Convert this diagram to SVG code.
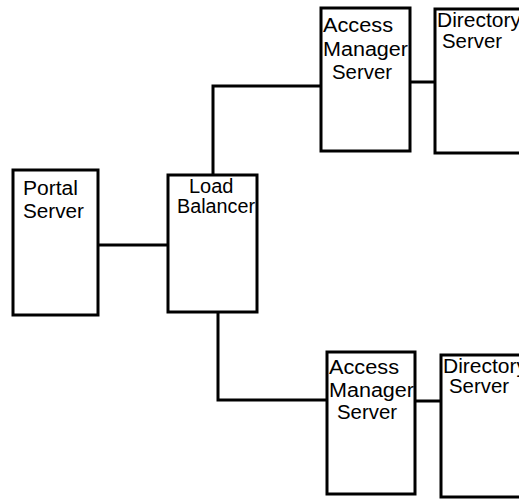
<svg xmlns="http://www.w3.org/2000/svg" width="519" height="499" viewBox="0 0 519 499">
<style>
.box{fill:#fff;stroke:#000;stroke-width:3}
.ln{fill:none;stroke:#000;stroke-width:3}
text{font-family:"Liberation Sans",Arial,sans-serif;font-size:20px;fill:#000}
</style>
<rect width="519" height="499" fill="#fff"/>
<g id="connectors">
<path class="ln" d="M98,245H168"/>
<path class="ln" d="M213,175V86H321"/>
<path class="ln" d="M410,82H435"/>
<path class="ln" d="M218,312V400H327"/>
<path class="ln" d="M415,401H441"/>
</g>
<g id="portal">
<rect class="box" x="13" y="170" width="85" height="145"/>
<text x="23" y="195" textLength="55" lengthAdjust="spacingAndGlyphs">Portal</text>
<text x="23" y="218" textLength="61" lengthAdjust="spacingAndGlyphs">Server</text>
</g>
<g id="lb">
<rect class="box" x="168" y="175" width="89" height="137"/>
<text x="189" y="193">Load</text>
<text x="177" y="213" textLength="78" lengthAdjust="spacingAndGlyphs">Balancer</text>
</g>
<g id="am1">
<rect class="box" x="321" y="8" width="89" height="143"/>
<text x="323" y="32" textLength="70" lengthAdjust="spacingAndGlyphs">Access</text>
<text x="323" y="56" textLength="85" lengthAdjust="spacingAndGlyphs">Manager</text>
<text x="332" y="79" textLength="60" lengthAdjust="spacingAndGlyphs">Server</text>
</g>
<g id="dir1">
<rect class="box" x="435" y="9" width="100" height="144"/>
<text x="437" y="27" textLength="84" lengthAdjust="spacingAndGlyphs">Directory</text>
<text x="442" y="48" textLength="60" lengthAdjust="spacingAndGlyphs">Server</text>
</g>
<g id="am2">
<rect class="box" x="327" y="352" width="88" height="142"/>
<text x="329" y="374" textLength="70" lengthAdjust="spacingAndGlyphs">Access</text>
<text x="329" y="397" textLength="85" lengthAdjust="spacingAndGlyphs">Manager</text>
<text x="337" y="419" textLength="60" lengthAdjust="spacingAndGlyphs">Server</text>
</g>
<g id="dir2">
<rect class="box" x="441" y="355" width="100" height="142"/>
<text x="443" y="373" textLength="84" lengthAdjust="spacingAndGlyphs">Directory</text>
<text x="449" y="393" textLength="60" lengthAdjust="spacingAndGlyphs">Server</text>
</g>
</svg>
